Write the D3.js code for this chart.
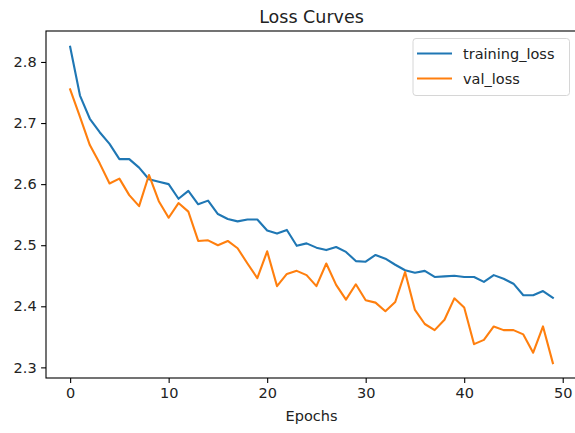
<!DOCTYPE html>
<html>
<head>
<meta charset="utf-8">
<script src="https://cdn.jsdelivr.net/npm/d3@7"></script>
<style>
  html, body { margin: 0; padding: 0; background: #fff; }
  svg { display: block; font-family: "DejaVu Sans", sans-serif; }
</style>
</head>
<body>
<svg id="chart" width="575" height="433"></svg>
<script>
const epochs = d3.range(0, 50);
const trainingLoss = [2.825, 2.745, 2.707, 2.685, 2.666, 2.641, 2.641, 2.627, 2.608, 2.604,
  2.600, 2.576, 2.589, 2.567, 2.573, 2.551, 2.543, 2.539, 2.542, 2.542,
  2.524, 2.519, 2.525, 2.499, 2.503, 2.496, 2.492, 2.497, 2.489, 2.474,
  2.473, 2.484, 2.478, 2.468, 2.459, 2.455, 2.458, 2.448, 2.449, 2.450,
  2.448, 2.448, 2.440, 2.451, 2.445, 2.437, 2.418, 2.418, 2.425, 2.414];
const valLoss = [2.755, 2.710, 2.664, 2.634, 2.601, 2.609, 2.582, 2.564, 2.615, 2.572,
  2.545, 2.569, 2.555, 2.507, 2.508, 2.500, 2.507, 2.495, 2.470, 2.446,
  2.490, 2.433, 2.453, 2.458, 2.451, 2.433, 2.470, 2.435, 2.411, 2.436,
  2.410, 2.406, 2.392, 2.407, 2.456, 2.394, 2.371, 2.361, 2.378, 2.413,
  2.398, 2.338, 2.345, 2.367, 2.361, 2.361, 2.354, 2.324, 2.367, 2.307];
const xTicks = [0, 10, 20, 30, 40, 50];
const yTicks = [2.3, 2.4, 2.5, 2.6, 2.7, 2.8];
const seriesNames = ["training_loss", "val_loss"];
const seriesColors = ["#1f77b4", "#ff7f0e"];

const svg = d3.select("#chart");
const L = 46, R = 577, T = 31, B = 378;

const x = d3.scaleLinear().domain([-2.45, 51.45]).range([L, R]);
const y = d3.scaleLinear().domain([2.2826, 2.8507]).range([B, T]);

svg.append("rect").attr("width", 575).attr("height", 433).attr("fill", "#fff");

const line = d3.line().x((d, i) => x(epochs[i])).y(d => y(d));
[trainingLoss, valLoss].forEach((s, k) => {
  svg.append("path").datum(s)
    .attr("d", line)
    .attr("fill", "none")
    .attr("stroke", seriesColors[k])
    .attr("stroke-width", 2.1)
    .attr("stroke-linejoin", "round")
    .attr("stroke-linecap", "square");
});

// axes
const xAxis = d3.axisBottom(x).tickValues(xTicks).tickFormat(d3.format("d")).tickSize(4.9).tickPadding(4.5);
const yAxis = d3.axisLeft(y).tickValues(yTicks).tickFormat(d3.format(".1f")).tickSize(4.9).tickPadding(4.5);

const gx = svg.append("g").attr("transform", `translate(0,${B})`).call(xAxis);
const gy = svg.append("g").attr("transform", `translate(${L},0)`).call(yAxis);
[gx, gy].forEach(g => {
  g.select(".domain").remove();
  g.selectAll("line").attr("stroke", "#000").attr("stroke-width", 1.1);
  g.selectAll("text").attr("fill", "#222").style("font-size", "14.5px").style("font-family", "DejaVu Sans");
});

// spines
svg.append("rect").attr("x", L).attr("y", T).attr("width", R - L).attr("height", B - T)
  .attr("fill", "none").attr("stroke", "#000").attr("stroke-width", 1.1);

// title
svg.append("text").attr("x", (L + R) / 2).attr("y", 22.5).attr("text-anchor", "middle")
  .attr("fill", "#222").style("font-size", "17.5px").text("Loss Curves");

// x label
svg.append("text").attr("x", (L + R) / 2).attr("y", 421).attr("text-anchor", "middle")
  .attr("fill", "#222").style("font-size", "14.5px").text("Epochs");

// legend
const lg = svg.append("g");
lg.append("rect").attr("x", 413).attr("y", 38.5).attr("width", 156.5).attr("height", 57)
  .attr("rx", 3).attr("fill", "#fff").attr("fill-opacity", 0.8)
  .attr("stroke", "#d6d6d6").attr("stroke-width", 1);
seriesNames.forEach((n, i) => {
  const yy = 53.5 + i * 25;
  lg.append("line").attr("x1", 417).attr("x2", 452).attr("y1", yy).attr("y2", yy)
    .attr("stroke", seriesColors[i]).attr("stroke-width", 2.1);
  lg.append("text").attr("x", 463).attr("y", yy + 5.2).attr("fill", "#222")
    .style("font-size", "14.5px").text(n);
});
</script>
</body>
</html>
